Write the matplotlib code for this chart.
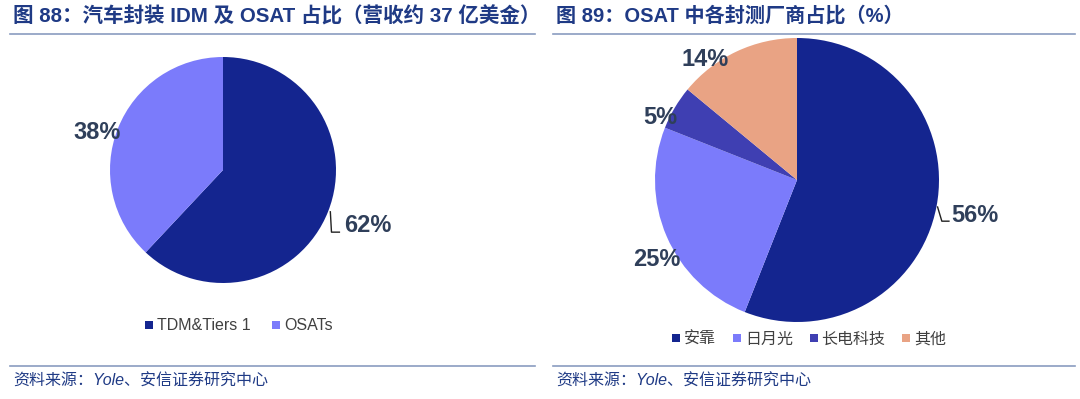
import numpy as np
import matplotlib.pyplot as plt
from matplotlib.lines import Line2D

plt.rcParams['font.family'] = ['Liberation Sans', 'Noto Sans CJK SC', 'DejaVu Sans']

# left chart: auto packaging revenue split
left_labels = ['TDM&Tiers 1', 'OSATs']
left_vals = [62, 38]
left_colors = ['#14258F', '#7B7BFB']

# right chart: OSAT vendor share
right_labels = ['安靠', '日月光', '长电科技', '其他']
right_vals = [56, 25, 5, 14]
right_colors = ['#14258F', '#7B7BFB', '#3F3FB2', '#E9A384']

title_color = '#1F3A85'
label_color = '#2F3F5A'
rule_color = '#8A9CC0'

W, H = 1080, 399
fig = plt.figure(figsize=(W / 100, H / 100), dpi=100)


def px_axes(cx, cy, r):
    # square axes around a pie centred at pixel (cx, cy)
    ax = fig.add_axes([(cx - r) / W, (H - cy - r) / H, 2 * r / W, 2 * r / H])
    ax.set_xlim(-1, 1)
    ax.set_ylim(-1, 1)
    ax.set_aspect('equal')
    ax.axis('off')
    return ax


def draw_pie(ax, vals, colors, lab_pos):
    ax.pie(vals, colors=colors, startangle=90, counterclock=False, radius=1,
           wedgeprops=dict(linewidth=0))
    ax.set_xlim(-1, 1)
    ax.set_ylim(-1, 1)
    for v, (x, y) in zip(vals, lab_pos):
        ax.text(x, y, f'{v}%', ha='center', va='center', fontsize=17,
                fontweight='bold', color=label_color, clip_on=False)


# left pie
ax1 = px_axes(223, 170, 113)
draw_pie(ax1, left_vals, left_colors, [(1.28, -0.49), (-1.11, 0.33)])
ax1.plot([0.95, 0.96, 1.03], [-0.37, -0.55, -0.55], color='#222222', lw=1, clip_on=False)

# right pie
ax2 = px_axes(797, 180, 142)
draw_pie(ax2, right_vals, right_colors,
         [(1.25, -0.25), (-0.99, -0.56), (-0.96, 0.44), (-0.65, 0.85)])
ax2.plot([0.99, 1.02, 1.07], [-0.19, -0.29, -0.29], color='#222222', lw=1, clip_on=False)


def legend(labels, colors, cx, cy, fs, cs):
    handles = [Line2D([], [], marker='s', linestyle='', markersize=6,
                      markerfacecolor=c, markeredgewidth=0) for c in colors]
    fig.legend(handles, labels, loc='center', bbox_to_anchor=(cx / W, 1 - cy / H),
               ncol=len(labels), frameon=False, fontsize=fs, handletextpad=0.1,
               columnspacing=cs, handlelength=0.8, labelcolor='#404040')


legend(left_labels, left_colors, 238, 326, 11.5, 1.2)
legend(right_labels, right_colors, 808, 339, 11.5, 0.9)

# titles and rules
fig.text(13 / W, 1 - 16 / H, '图 88：汽车封装 IDM 及 OSAT 占比（营收约 37 亿美金）',
         fontsize=14.8, fontweight='bold', color=title_color, va='center')
fig.text(556 / W, 1 - 16 / H, '图 89：OSAT 中各封测厂商占比（%）',
         fontsize=14.5, fontweight='bold', color=title_color, va='center')
for x0, x1 in [(10, 535), (553, 1075)]:
    for y in (34, 366):
        fig.add_artist(Line2D([x0 / W, x1 / W], [1 - y / H, 1 - y / H],
                              color=rule_color, lw=1.2))
    fig.text((x0 + 3) / W, 1 - 381 / H, '资料来源：Yole、安信证券研究中心',
             fontsize=11.5, style='italic', color=title_color, va='center')

fig.savefig('out.png', dpi=100)
